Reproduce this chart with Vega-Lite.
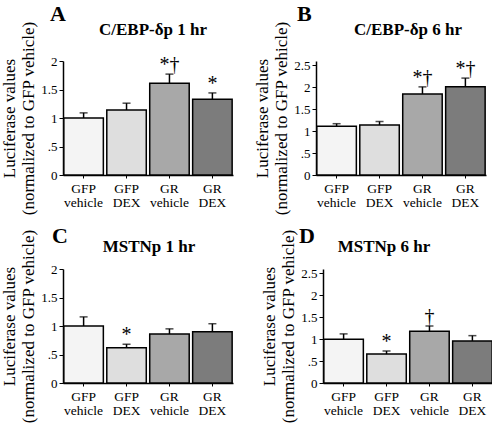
{
  "$schema": "https://vega.github.io/schema/vega-lite/v6.json",
  "padding": {"left": 0, "top": 2, "right": 2, "bottom": 0},
  "datasets": {
    "bars": [
      {"panel": "A", "group": "GFP vehicle", "value": 1.0, "upper": 1.09, "sig": ""},
      {"panel": "A", "group": "GFP DEX", "value": 1.14, "upper": 1.26, "sig": ""},
      {"panel": "A", "group": "GR vehicle", "value": 1.61, "upper": 1.77, "sig": "*†"},
      {"panel": "A", "group": "GR DEX", "value": 1.33, "upper": 1.44, "sig": "*"},
      {"panel": "B", "group": "GFP vehicle", "value": 1.11, "upper": 1.17, "sig": ""},
      {"panel": "B", "group": "GFP DEX", "value": 1.14, "upper": 1.22, "sig": ""},
      {"panel": "B", "group": "GR vehicle", "value": 1.85, "upper": 2.01, "sig": "*†"},
      {"panel": "B", "group": "GR DEX", "value": 2.01, "upper": 2.21, "sig": "*†"},
      {"panel": "C", "group": "GFP vehicle", "value": 1.0, "upper": 1.16, "sig": ""},
      {"panel": "C", "group": "GFP DEX", "value": 0.62, "upper": 0.68, "sig": "*"},
      {"panel": "C", "group": "GR vehicle", "value": 0.86, "upper": 0.95, "sig": ""},
      {"panel": "C", "group": "GR DEX", "value": 0.9, "upper": 1.04, "sig": ""},
      {"panel": "D", "group": "GFP vehicle", "value": 1.0, "upper": 1.12, "sig": ""},
      {"panel": "D", "group": "GFP DEX", "value": 0.66, "upper": 0.73, "sig": "*"},
      {"panel": "D", "group": "GR vehicle", "value": 1.18, "upper": 1.3, "sig": "†"},
      {"panel": "D", "group": "GR DEX", "value": 0.96, "upper": 1.08, "sig": ""}
    ]
  },
  "config": {
    "font": "Liberation Serif",
    "view": {"stroke": null},
    "axis": {"grid": false, "domainColor": "black", "tickColor": "black", "labelColor": "black", "titleColor": "black", "labelFont": "Liberation Serif", "titleFont": "Liberation Serif", "domainWidth": 1.5, "labelOverlap": false, "labelFlush": false},
    "axisX": {"title": null, "labelAngle": 0, "labelFontSize": 13.5, "labelLineHeight": 14, "tickSize": 3, "labelPadding": 3},
    "axisY": {"labelFontSize": 13, "tickSize": 4, "labelPadding": 2, "titleFontSize": 17, "titleFontWeight": "normal", "titleLineHeight": 19, "titlePadding": 3},
    "title": {"font": "Liberation Serif", "color": "black"}
  },
  "spacing": 8,
  "vconcat": [
    {"spacing": 20, "hconcat": [
      {"title": {"text": "A", "anchor": "start", "frame": "group", "fontSize": 22, "fontWeight": "bold", "dx": -13, "offset": -5},
       "vconcat": [{
        "title": {"text": "C/EBP-δp 1 hr", "fontSize": 17, "fontWeight": "bold", "offset": -18, "dx": 5},
        "width": 170, "height": 114,
        "data": {"name": "bars"},
        "transform": [{"filter": "datum.panel == 'A'"}],
        "encoding": {
          "x": {"field": "group", "type": "nominal", "sort": ["GFP vehicle", "GFP DEX", "GR vehicle", "GR DEX"],
                "scale": {"paddingInner": 0.08, "paddingOuter": 0.02},
                "axis": {"labelExpr": "split(datum.label, ' ')"}}
        },
        "layer": [
          {"mark": {"type": "bar", "stroke": "black", "strokeWidth": 1.5},
           "encoding": {"y": {"field": "value", "type": "quantitative", "scale": {"domain": [0, 2]},
              "axis": {"values": [0, 0.5, 1, 1.5, 2], "labelExpr": "datum.value == 0.5 ? '.5' : format(datum.value, '~g')", "title": ["Luciferase values", "(normalized to GFP vehicle)"]}},
             "color": {"field": "group", "type": "nominal", "legend": null, "scale": {"domain": ["GFP vehicle", "GFP DEX", "GR vehicle", "GR DEX"], "range": ["#f4f4f4", "#dedede", "#a8a8a8", "#7c7c7c"]}}}},
          {"mark": {"type": "rule", "color": "black", "strokeWidth": 1.5}, "encoding": {"y": {"field": "value", "type": "quantitative", "axis": {"values": [0, 0.5, 1, 1.5, 2], "labelExpr": "datum.value == 0.5 ? '.5' : format(datum.value, '~g')", "title": ["Luciferase values", "(normalized to GFP vehicle)"]}}, "y2": {"field": "upper"}}},
          {"mark": {"type": "tick", "color": "black", "size": 8, "thickness": 1.5}, "encoding": {"y": {"field": "upper", "type": "quantitative", "axis": {"values": [0, 0.5, 1, 1.5, 2], "labelExpr": "datum.value == 0.5 ? '.5' : format(datum.value, '~g')", "title": ["Luciferase values", "(normalized to GFP vehicle)"]}}}},
          {"mark": {"type": "text", "fontSize": 20, "baseline": "bottom", "dy": 1, "color": "black"}, "encoding": {"y": {"field": "upper", "type": "quantitative", "axis": {"values": [0, 0.5, 1, 1.5, 2], "labelExpr": "datum.value == 0.5 ? '.5' : format(datum.value, '~g')", "title": ["Luciferase values", "(normalized to GFP vehicle)"]}}, "text": {"field": "sig"}}}
        ]
       }]},
      {"title": {"text": "B", "anchor": "start", "frame": "group", "fontSize": 22, "fontWeight": "bold", "dx": -19, "offset": -5},
       "vconcat": [{
        "title": {"text": "C/EBP-δp 6 hr", "fontSize": 17, "fontWeight": "bold", "offset": -18, "dx": 7},
        "width": 170, "height": 114,
        "data": {"name": "bars"},
        "transform": [{"filter": "datum.panel == 'B'"}],
        "encoding": {
          "x": {"field": "group", "type": "nominal", "sort": ["GFP vehicle", "GFP DEX", "GR vehicle", "GR DEX"],
                "scale": {"paddingInner": 0.08, "paddingOuter": 0.02},
                "axis": {"labelExpr": "split(datum.label, ' ')"}}
        },
        "layer": [
          {"mark": {"type": "bar", "stroke": "black", "strokeWidth": 1.5},
           "encoding": {"y": {"field": "value", "type": "quantitative", "scale": {"domain": [0, 2.5]},
              "axis": {"values": [0, 0.5, 1, 1.5, 2, 2.5], "labelExpr": "datum.value == 0.5 ? '.5' : format(datum.value, '~g')", "title": ["Luciferase values", "(normalized to GFP vehicle)"]}},
             "color": {"field": "group", "type": "nominal", "legend": null, "scale": {"domain": ["GFP vehicle", "GFP DEX", "GR vehicle", "GR DEX"], "range": ["#f4f4f4", "#dedede", "#a8a8a8", "#7c7c7c"]}}}},
          {"mark": {"type": "rule", "color": "black", "strokeWidth": 1.5}, "encoding": {"y": {"field": "value", "type": "quantitative", "axis": {"values": [0, 0.5, 1, 1.5, 2, 2.5], "labelExpr": "datum.value == 0.5 ? '.5' : format(datum.value, '~g')", "title": ["Luciferase values", "(normalized to GFP vehicle)"]}}, "y2": {"field": "upper"}}},
          {"mark": {"type": "tick", "color": "black", "size": 8, "thickness": 1.5}, "encoding": {"y": {"field": "upper", "type": "quantitative", "axis": {"values": [0, 0.5, 1, 1.5, 2, 2.5], "labelExpr": "datum.value == 0.5 ? '.5' : format(datum.value, '~g')", "title": ["Luciferase values", "(normalized to GFP vehicle)"]}}}},
          {"mark": {"type": "text", "fontSize": 20, "baseline": "bottom", "dy": 1, "color": "black"}, "encoding": {"y": {"field": "upper", "type": "quantitative", "axis": {"values": [0, 0.5, 1, 1.5, 2, 2.5], "labelExpr": "datum.value == 0.5 ? '.5' : format(datum.value, '~g')", "title": ["Luciferase values", "(normalized to GFP vehicle)"]}}, "text": {"field": "sig"}}}
        ]
       }]}
    ]},
    {"spacing": 27, "hconcat": [
      {"title": {"text": "C", "anchor": "start", "frame": "group", "fontSize": 22, "fontWeight": "bold", "dx": -11, "offset": -19},
       "vconcat": [{
        "title": {"text": "MSTNp 1 hr", "fontSize": 17, "fontWeight": "bold", "offset": -27, "dx": 1},
        "width": 170, "height": 114,
        "data": {"name": "bars"},
        "transform": [{"filter": "datum.panel == 'C'"}],
        "encoding": {
          "x": {"field": "group", "type": "nominal", "sort": ["GFP vehicle", "GFP DEX", "GR vehicle", "GR DEX"],
                "scale": {"paddingInner": 0.08, "paddingOuter": 0.02},
                "axis": {"labelExpr": "split(datum.label, ' ')"}}
        },
        "layer": [
          {"mark": {"type": "bar", "stroke": "black", "strokeWidth": 1.5},
           "encoding": {"y": {"field": "value", "type": "quantitative", "scale": {"domain": [0, 2]},
              "axis": {"values": [0, 0.5, 1, 1.5, 2], "labelExpr": "datum.value == 0.5 ? '.5' : format(datum.value, '~g')", "title": ["Luciferase values", "(normalized to GFP vehicle)"]}},
             "color": {"field": "group", "type": "nominal", "legend": null, "scale": {"domain": ["GFP vehicle", "GFP DEX", "GR vehicle", "GR DEX"], "range": ["#f4f4f4", "#dedede", "#a8a8a8", "#7c7c7c"]}}}},
          {"mark": {"type": "rule", "color": "black", "strokeWidth": 1.5}, "encoding": {"y": {"field": "value", "type": "quantitative", "axis": {"values": [0, 0.5, 1, 1.5, 2], "labelExpr": "datum.value == 0.5 ? '.5' : format(datum.value, '~g')", "title": ["Luciferase values", "(normalized to GFP vehicle)"]}}, "y2": {"field": "upper"}}},
          {"mark": {"type": "tick", "color": "black", "size": 8, "thickness": 1.5}, "encoding": {"y": {"field": "upper", "type": "quantitative", "axis": {"values": [0, 0.5, 1, 1.5, 2], "labelExpr": "datum.value == 0.5 ? '.5' : format(datum.value, '~g')", "title": ["Luciferase values", "(normalized to GFP vehicle)"]}}}},
          {"mark": {"type": "text", "fontSize": 20, "baseline": "bottom", "dy": 1, "color": "black"}, "encoding": {"y": {"field": "upper", "type": "quantitative", "axis": {"values": [0, 0.5, 1, 1.5, 2], "labelExpr": "datum.value == 0.5 ? '.5' : format(datum.value, '~g')", "title": ["Luciferase values", "(normalized to GFP vehicle)"]}}, "text": {"field": "sig"}}}
        ]
       }]},
      {"title": {"text": "D", "anchor": "start", "frame": "group", "fontSize": 22, "fontWeight": "bold", "dx": -24, "offset": -19},
       "vconcat": [{
        "title": {"text": "MSTNp 6 hr", "fontSize": 17, "fontWeight": "bold", "offset": -27, "dx": -24},
        "width": 170, "height": 114,
        "data": {"name": "bars"},
        "transform": [{"filter": "datum.panel == 'D'"}],
        "encoding": {
          "x": {"field": "group", "type": "nominal", "sort": ["GFP vehicle", "GFP DEX", "GR vehicle", "GR DEX"],
                "scale": {"paddingInner": 0.08, "paddingOuter": 0.02},
                "axis": {"labelExpr": "split(datum.label, ' ')"}}
        },
        "layer": [
          {"mark": {"type": "bar", "stroke": "black", "strokeWidth": 1.5},
           "encoding": {"y": {"field": "value", "type": "quantitative", "scale": {"domain": [0, 2.5]},
              "axis": {"values": [0, 0.5, 1, 1.5, 2, 2.5], "labelExpr": "datum.value == 0.5 ? '.5' : format(datum.value, '~g')", "title": ["Luciferase values", "(normalized to GFP vehicle)"]}},
             "color": {"field": "group", "type": "nominal", "legend": null, "scale": {"domain": ["GFP vehicle", "GFP DEX", "GR vehicle", "GR DEX"], "range": ["#f4f4f4", "#dedede", "#a8a8a8", "#7c7c7c"]}}}},
          {"mark": {"type": "rule", "color": "black", "strokeWidth": 1.5}, "encoding": {"y": {"field": "value", "type": "quantitative", "axis": {"values": [0, 0.5, 1, 1.5, 2, 2.5], "labelExpr": "datum.value == 0.5 ? '.5' : format(datum.value, '~g')", "title": ["Luciferase values", "(normalized to GFP vehicle)"]}}, "y2": {"field": "upper"}}},
          {"mark": {"type": "tick", "color": "black", "size": 8, "thickness": 1.5}, "encoding": {"y": {"field": "upper", "type": "quantitative", "axis": {"values": [0, 0.5, 1, 1.5, 2, 2.5], "labelExpr": "datum.value == 0.5 ? '.5' : format(datum.value, '~g')", "title": ["Luciferase values", "(normalized to GFP vehicle)"]}}}},
          {"mark": {"type": "text", "fontSize": 20, "baseline": "bottom", "dy": 1, "color": "black"}, "encoding": {"y": {"field": "upper", "type": "quantitative", "axis": {"values": [0, 0.5, 1, 1.5, 2, 2.5], "labelExpr": "datum.value == 0.5 ? '.5' : format(datum.value, '~g')", "title": ["Luciferase values", "(normalized to GFP vehicle)"]}}, "text": {"field": "sig"}}}
        ]
       }]}
    ]}
  ]
}
